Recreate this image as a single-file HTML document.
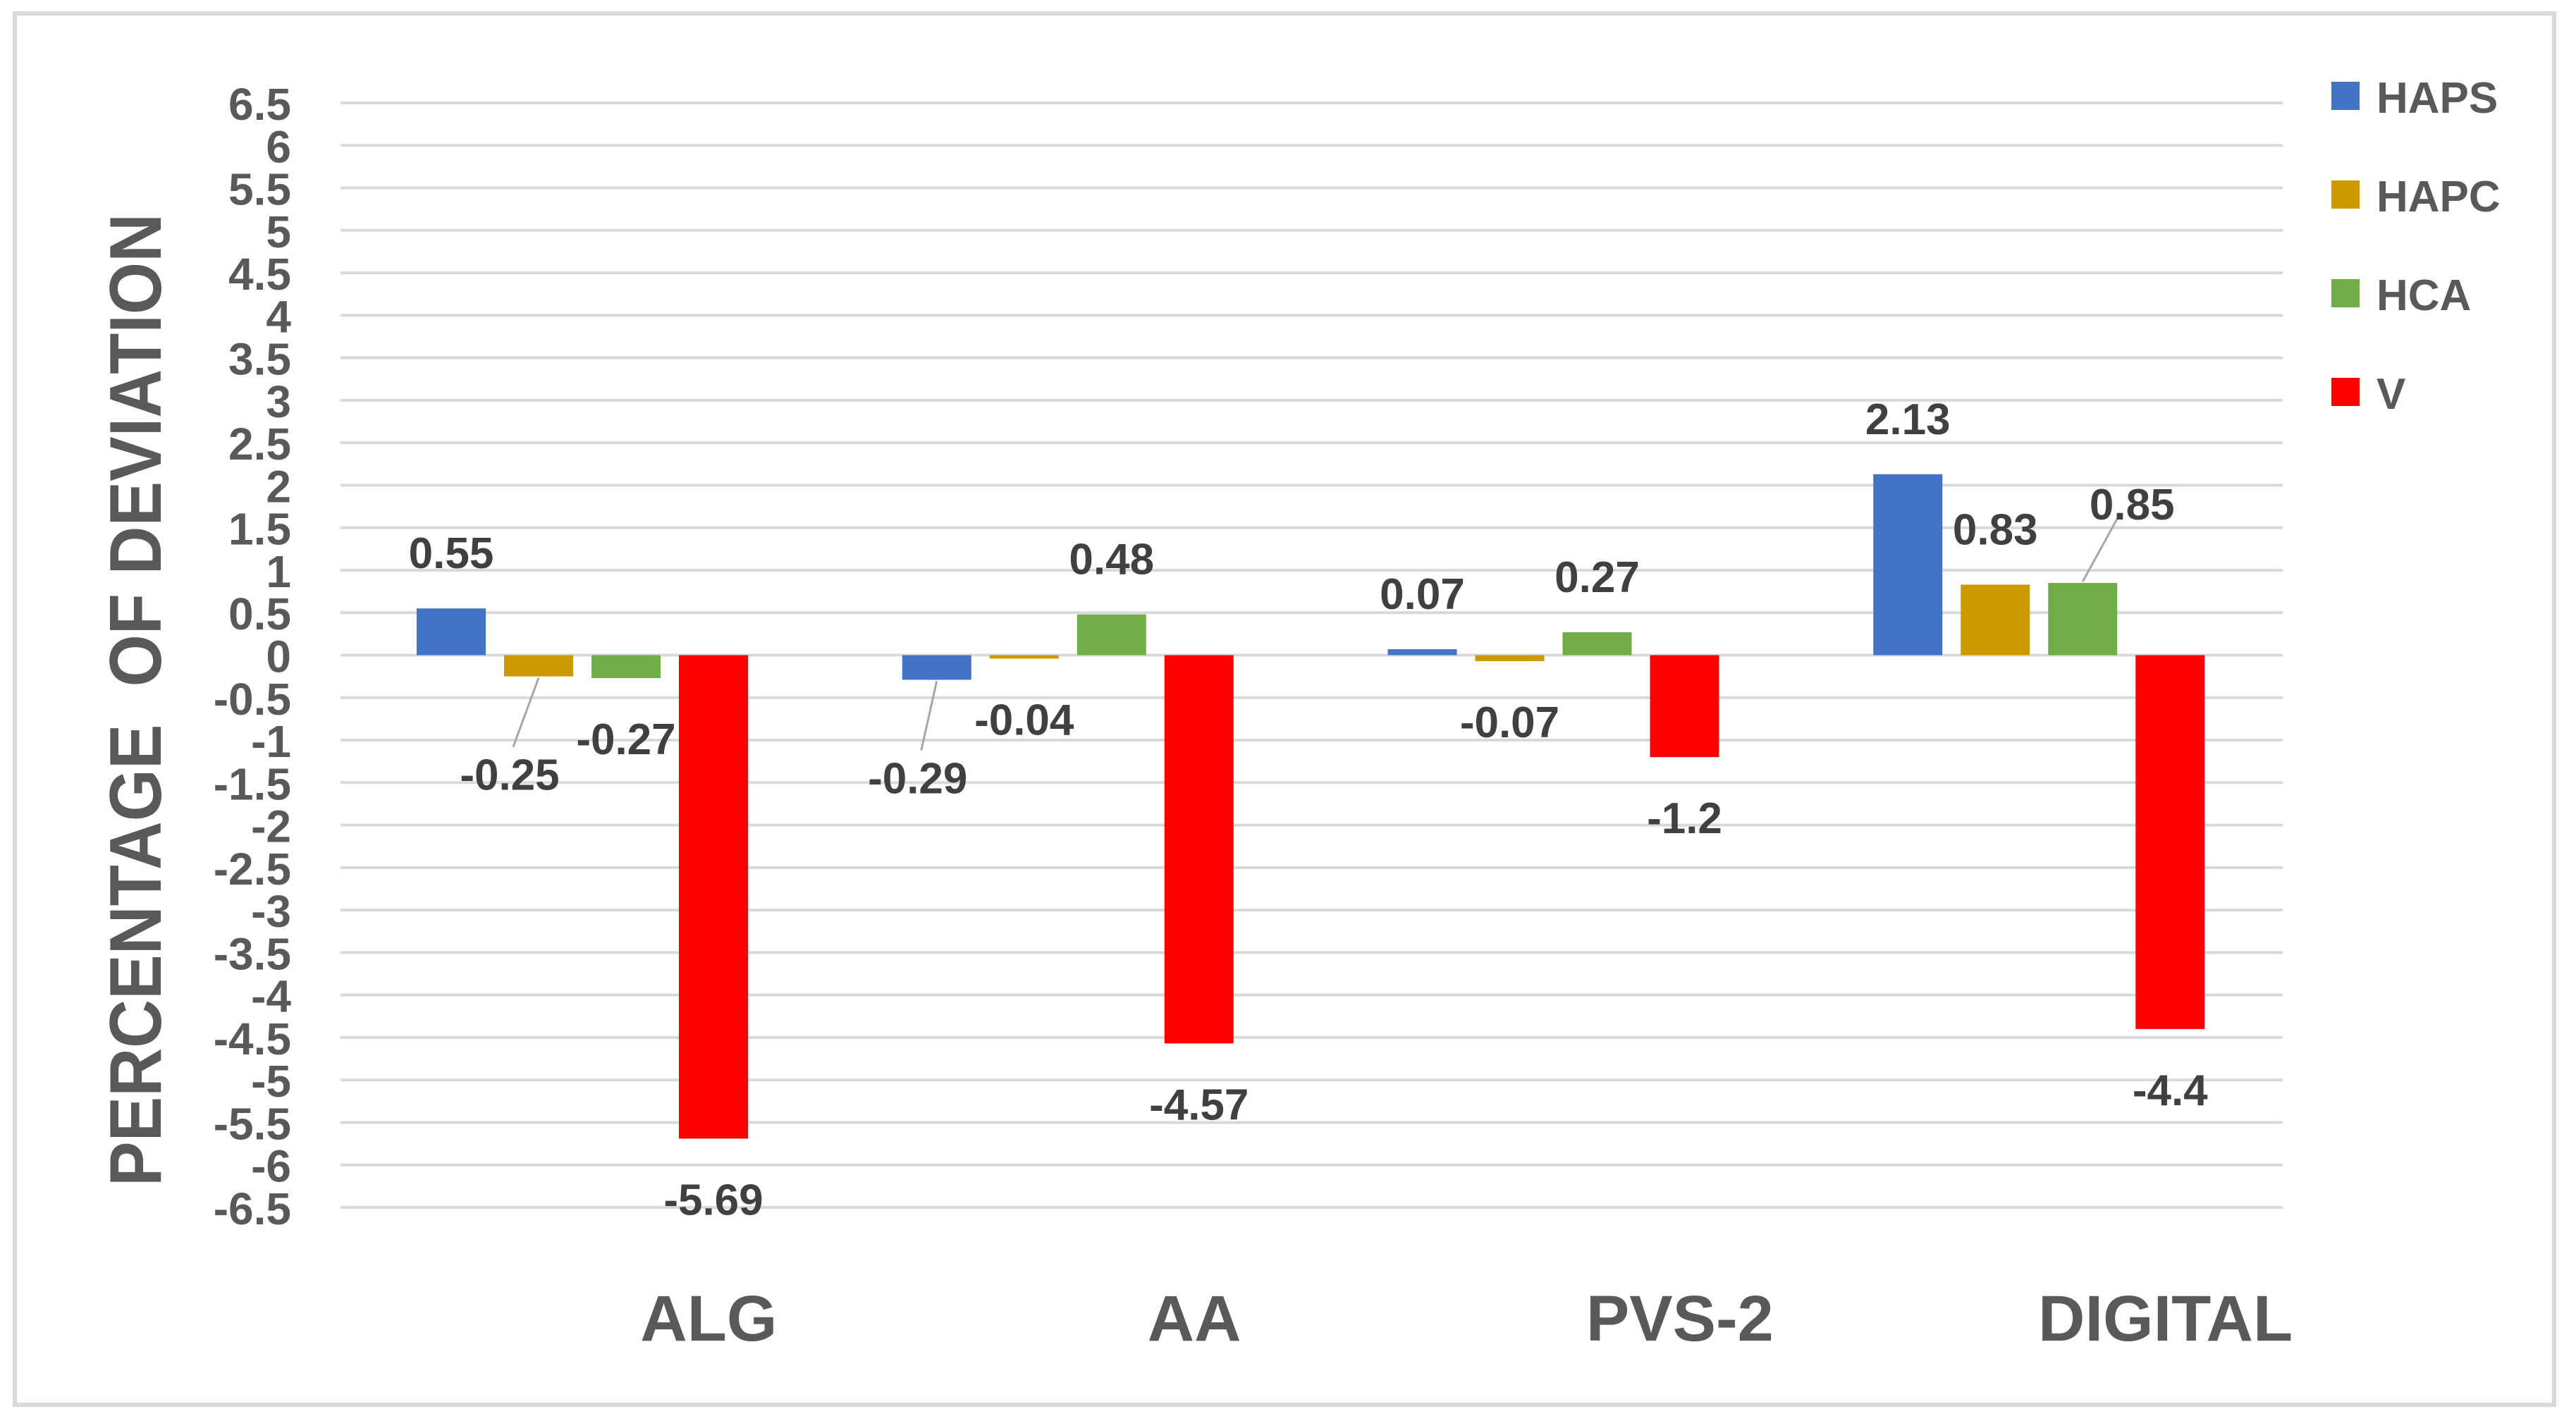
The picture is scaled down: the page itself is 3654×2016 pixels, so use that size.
<!DOCTYPE html>
<html><head><meta charset="utf-8">
<style>
html,body{margin:0;padding:0;background:#fff;}
svg{display:block;font-family:"Liberation Sans",sans-serif;}
</style></head>
<body>
<svg id="chart" width="3654" height="2016" viewBox="0 0 3654 2016" xmlns="http://www.w3.org/2000/svg">
<rect x="21" y="19" width="3602" height="1974" fill="#fff" stroke="#d9d9d9" stroke-width="6"/>
<g id="grid"></g>
<g id="bars"></g>
<g id="labels"></g>
<g id="ticks"></g>
<g id="cats"></g>
<g id="legend"></g>
<text transform="translate(228,993) rotate(-90)" text-anchor="middle" font-size="104" font-weight="bold" fill="#595959" textLength="1380" lengthAdjust="spacingAndGlyphs">PERCENTAGE&#160; OF DEVIATION</text>
</svg>
<script>
const categories = ["ALG", "AA", "PVS-2", "DIGITAL"];
const seriesNames = ["HAPS", "HAPC", "HCA", "V"];
const seriesColors = ["#4472c4", "#cc9900", "#70ad47", "#ff0000"];
const hapsValues = [0.55, -0.29, 0.07, 2.13];
const hapcValues = [-0.25, -0.04, -0.07, 0.83];
const hcaValues = [-0.27, 0.48, 0.27, 0.85];
const vValues = [-5.69, -4.57, -1.2, -4.4];
const tickValues = [6.5,6,5.5,5,4.5,4,3.5,3,2.5,2,1.5,1,0.5,0,-0.5,-1,-1.5,-2,-2.5,-3,-3.5,-4,-4.5,-5,-5.5,-6,-6.5];

const series = [hapsValues, hapcValues, hcaValues, vValues];
const NS = "http://www.w3.org/2000/svg";
const plotLeft = 483, plotRight = 3238, yTop = 146, yBottom = 1713, vMax = 6.5, vMin = -6.5;
function yScale(v){ return yTop + (vMax - v) / (vMax - vMin) * (yBottom - yTop); }
const catW = (plotRight - plotLeft) / categories.length;
function xBar(ci, si){ return plotLeft + ci * catW + 108 + si * 124; }
const barW = 98;
function mk(tag, attrs, parent){ const e = document.createElementNS(NS, tag); for (const k in attrs) e.setAttribute(k, attrs[k]); parent.appendChild(e); return e; }

const grid = document.getElementById('grid');
const ticks = document.getElementById('ticks');
tickValues.forEach(t => {
  const y = yScale(t);
  const l = mk('line', {x1: plotLeft, x2: plotRight, y1: y, y2: y, stroke: '#d9d9d9', 'stroke-width': 4}, grid);
  
  
  const tx = mk('text', {x: 413, y: y + 24, 'text-anchor': 'end', 'font-size': 64, 'font-weight': 'bold', fill: '#595959'}, ticks);
  tx.textContent = String(t);
  
  
});

const labelShift = {"0-1": [-41, 53], "1-0": [-27, 53], "3-2": [70, -33]};
const leaders = {"0-1": true, "1-0": true, "3-2": true};
const bars = document.getElementById('bars');
const labels = document.getElementById('labels');
const y0 = yScale(0);
series.forEach((vals, si) => {
  vals.forEach((v, ci) => {
    const x = xBar(ci, si);
    const yv = yScale(v);
    const top = Math.min(y0, yv), h = Math.max(Math.abs(yv - y0), 3);
    const r = mk('rect', {x: x, y: top, width: barW, height: h, fill: seriesColors[si]}, bars);
    
    
    const cx = x + barW / 2;
    let ly = v >= 0 ? yv - 80 : yv + 85;
    let lx = cx;
    const key = ci + '-' + si;
    if (labelShift[key]) { lx += labelShift[key][0]; ly += labelShift[key][1]; }
    if (leaders[key]) {
      const ln = mk('line', {x1: cx, y1: v >= 0 ? yv - 2 : yv + 2, x2: lx + (v >= 0 ? -20 : 5), y2: v >= 0 ? ly + 20 : ly - 38, stroke: '#a6a6a6', 'stroke-width': 3}, labels);
      
      
    }
    const t = mk('text', {x: lx, y: ly + 23, 'text-anchor': 'middle', 'font-size': 62, 'font-weight': 'bold', fill: '#404040'}, labels);
    t.textContent = String(v);
    
    
  });
});

const cats = document.getElementById('cats');
categories.forEach((c, ci) => {
  const t = mk('text', {x: plotLeft + ci * catW + catW / 2 + 178, y: 1902, 'text-anchor': 'middle', 'font-size': 92, 'font-weight': 'bold', fill: '#595959'}, cats);
  t.textContent = c;
  
  
});

const legend = document.getElementById('legend');
seriesNames.forEach((n, si) => {
  const y = 116 + si * 140;
  const g = mk('g', {}, legend);
  
  
  mk('rect', {x: 3307, y: y, width: 40, height: 40, fill: seriesColors[si]}, g);
  const t = mk('text', {x: 3371, y: y + 44, 'font-size': 62, 'font-weight': 'bold', fill: '#595959'}, g);
  t.textContent = n;
});
</script>
</body></html>
